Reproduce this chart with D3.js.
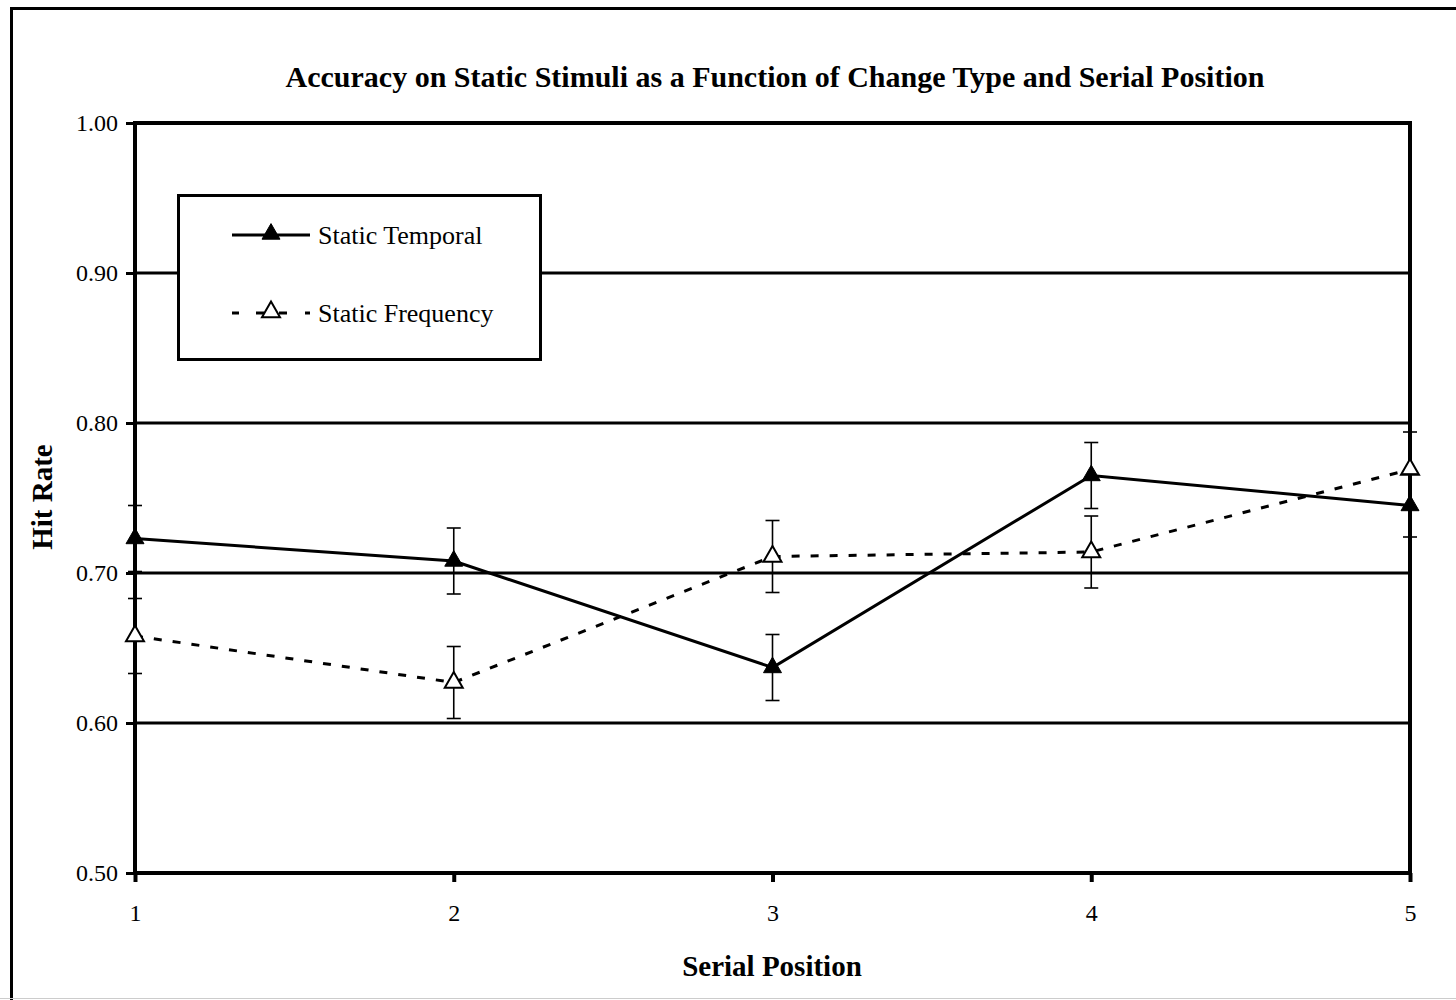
<!DOCTYPE html>
<html>
<head>
<meta charset="utf-8">
<script src="https://cdn.jsdelivr.net/npm/d3@7"></script>
<style>
  html, body { margin: 0; padding: 0; background: #fff; }
  svg { display: block; }
  text { font-family: "Liberation Serif", "Times New Roman", serif; fill: #000; }
</style>
</head>
<body>
<svg id="chart" width="1456" height="1000"></svg>
<script>
// Serial positions on the x axis
const positions = [1, 2, 3, 4, 5];
// Mean hit rates per series
const temporalHitRate  = [0.723, 0.708, 0.637, 0.765, 0.745];
const frequencyHitRate = [0.658, 0.627, 0.711, 0.714, 0.769];
// Standard errors per series
const temporalError  = [0.022, 0.022, 0.022, 0.022, 0.021];
const frequencyError = [0.025, 0.024, 0.024, 0.024, 0.025];
// Axis ticks
const yTicks = [0.50, 0.60, 0.70, 0.80, 0.90, 1.00];
const xTicks = [1, 2, 3, 4, 5];
const seriesNames = ["Static Temporal", "Static Frequency"];

const svg = d3.select("#chart");

// outer frame
svg.append("rect").attr("x", 0).attr("y", 0).attr("width", 1456).attr("height", 1000).attr("fill", "#fff");
svg.append("path").attr("d", "M11.5,1000 V8.5 H1456")
  .attr("fill", "none").attr("stroke", "#000").attr("stroke-width", 3);
svg.append("line").attr("x1", 0).attr("x2", 1456).attr("y1", 998.5).attr("y2", 998.5)
  .attr("stroke", "#ccc").attr("stroke-width", 1);

const plot = { left: 135, right: 1410, top: 123, bottom: 873 };

const x = d3.scaleLinear().domain([1, 5]).range([plot.left, plot.right]);
const y = d3.scaleLinear().domain([0.5, 1.0]).range([plot.bottom, plot.top]);

// horizontal gridlines
svg.append("g").selectAll("line").data(yTicks.filter(t => t > 0.5 && t < 1.0)).join("line")
  .attr("x1", plot.left).attr("x2", plot.right)
  .attr("y1", d => y(d)).attr("y2", d => y(d))
  .attr("stroke", "#000").attr("stroke-width", 3);

// y axis
const yAxis = d3.axisLeft(y).tickValues(yTicks).tickFormat(d3.format(".2f")).tickSize(9).tickPadding(8);
const gy = svg.append("g").attr("transform", `translate(${plot.left},0)`).call(yAxis);
gy.select(".domain").remove();
gy.selectAll(".tick line").attr("stroke", "#000").attr("stroke-width", 3);
gy.selectAll(".tick text").attr("font-size", 24).attr("font-family", "Liberation Serif, serif").attr("fill", "#000");

// x axis
const xAxis = d3.axisBottom(x).tickValues(xTicks).tickFormat(d3.format("d")).tickSize(9).tickPadding(22);
const gx = svg.append("g").attr("transform", `translate(0,${plot.bottom})`).call(xAxis);
gx.select(".domain").remove();
gx.selectAll(".tick line").attr("stroke", "#000").attr("stroke-width", 4);
gx.selectAll(".tick text").attr("font-size", 24).attr("font-family", "Liberation Serif, serif").attr("fill", "#000");

// plot area border
svg.append("rect")
  .attr("x", plot.left).attr("y", plot.top)
  .attr("width", plot.right - plot.left).attr("height", plot.bottom - plot.top)
  .attr("fill", "none").attr("stroke", "#000").attr("stroke-width", 4);

// legend box (drawn before series so lines overlay only the grid)
const legend = svg.append("g");
legend.append("rect").attr("x", 178.5).attr("y", 195.5).attr("width", 362).attr("height", 164)
  .attr("fill", "#fff").attr("stroke", "#000").attr("stroke-width", 3);

const tri = d3.symbol().type(d3.symbolTriangle).size(140);

const line = d3.line().x((d, i) => x(positions[i])).y(d => y(d));

function drawSeries(values, errors, dashed, filled) {
  const g = svg.append("g");
  // error bars
  const cap = 7;
  const eb = g.selectAll("g.eb").data(values).join("g");
  eb.append("line")
    .attr("x1", (d, i) => x(positions[i])).attr("x2", (d, i) => x(positions[i]))
    .attr("y1", (d, i) => y(d + errors[i])).attr("y2", (d, i) => y(d - errors[i]))
    .attr("stroke", "#000").attr("stroke-width", 1.6);
  eb.append("line")
    .attr("x1", (d, i) => x(positions[i]) - cap).attr("x2", (d, i) => x(positions[i]) + cap)
    .attr("y1", (d, i) => y(d + errors[i])).attr("y2", (d, i) => y(d + errors[i]))
    .attr("stroke", "#000").attr("stroke-width", 1.6);
  eb.append("line")
    .attr("x1", (d, i) => x(positions[i]) - cap).attr("x2", (d, i) => x(positions[i]) + cap)
    .attr("y1", (d, i) => y(d - errors[i])).attr("y2", (d, i) => y(d - errors[i]))
    .attr("stroke", "#000").attr("stroke-width", 1.6);
  // connecting line
  g.append("path").datum(values).attr("d", line)
    .attr("fill", "none").attr("stroke", "#000").attr("stroke-width", 3)
    .attr("stroke-dasharray", dashed ? "8,11" : null);
  // markers
  g.selectAll("path.m").data(values).join("path").attr("class", "m")
    .attr("transform", (d, i) => `translate(${x(positions[i])},${y(d)})`)
    .attr("d", tri)
    .attr("fill", filled ? "#000" : "#fff")
    .attr("stroke", "#000").attr("stroke-width", filled ? 1 : 2);
}

drawSeries(frequencyHitRate, frequencyError, true, false);
drawSeries(temporalHitRate, temporalError, false, true);

// legend entries
const legendRows = [
  { name: seriesNames[0], y: 235, dashed: false, filled: true },
  { name: seriesNames[1], y: 313, dashed: true, filled: false }
];
legendRows.forEach(r => {
  if (r.dashed) {
    [[232, 239], [256, 264], [279, 287], [305, 310]].forEach(s =>
      legend.append("line").attr("x1", s[0]).attr("x2", s[1]).attr("y1", r.y).attr("y2", r.y)
        .attr("stroke", "#000").attr("stroke-width", 3));
  } else {
    legend.append("line").attr("x1", 232).attr("x2", 310).attr("y1", r.y).attr("y2", r.y)
      .attr("stroke", "#000").attr("stroke-width", 3);
  }
  legend.append("path").attr("transform", `translate(271,${r.y - 1})`).attr("d", tri)
    .attr("fill", r.filled ? "#000" : "#fff").attr("stroke", "#000").attr("stroke-width", r.filled ? 1 : 2);
  legend.append("text").attr("x", 318).attr("y", r.y + 9).attr("font-size", 26).text(r.name);
});

// titles
svg.append("text").attr("x", 775).attr("y", 87).attr("text-anchor", "middle")
  .attr("font-size", 30).attr("font-weight", "bold")
  .text("Accuracy on Static Stimuli as a Function of Change Type and Serial Position");
svg.append("text").attr("x", 772).attr("y", 976).attr("text-anchor", "middle")
  .attr("font-size", 29).attr("font-weight", "bold").text("Serial Position");
svg.append("text").attr("transform", "translate(52,497) rotate(-90)").attr("text-anchor", "middle")
  .attr("font-size", 29).attr("font-weight", "bold").text("Hit Rate");
</script>
</body>
</html>
